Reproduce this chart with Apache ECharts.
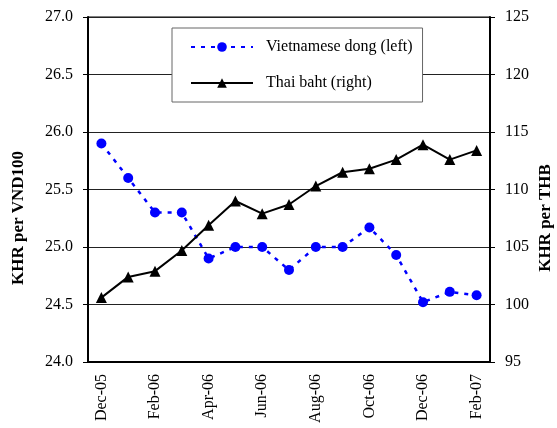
<!DOCTYPE html>
<html><head><meta charset="utf-8">
<script src="https://cdn.jsdelivr.net/npm/echarts@6/dist/echarts.min.js"></script>
<style>html,body{margin:0;padding:0;background:#fff}#c{width:557px;height:428px}</style>
</head><body><div id="c"></div>
<script>
const categories = ['Dec-05','Jan-06','Feb-06','Mar-06','Apr-06','May-06','Jun-06','Jul-06','Aug-06','Sep-06','Oct-06','Nov-06','Dec-06','Jan-07','Feb-07'];
const vndValues = [25.90, 25.60, 25.30, 25.30, 24.90, 25.00, 25.00, 24.80, 25.00, 25.00, 25.17, 24.93, 24.52, 24.61, 24.58];
const thbValues = [100.6, 102.4, 102.9, 104.7, 106.9, 109.0, 107.9, 108.7, 110.3, 111.5, 111.8, 112.6, 113.9, 112.6, 113.4];
const leftTicks = {min: 24.0, max: 27.0, interval: 0.5};
const rightTicks = {min: 95, max: 125, interval: 5};
const seriesNames = ['Vietnamese dong (left)', 'Thai baht (right)'];
const axisNames = ['KHR per VND100', 'KHR per THB'];

const FONT = '"Liberation Serif", "Times New Roman", serif';
const chart = echarts.init(document.getElementById('c'), null, {renderer: 'canvas'});
chart.setOption({
  animation: false,
  backgroundColor: '#fff',
  grid: {left: 88, right: 67, top: 17, bottom: 66, show: true, borderColor: '#000', borderWidth: 1},
  graphic: [
    {type: 'text', x: 10, y: 218, rotation: Math.PI / 2,
     style: {text: axisNames[0], fontFamily: FONT, fontSize: 17, fontWeight: 'bold', fill: '#000', align: 'center', verticalAlign: 'top'}},
    {type: 'text', x: 537, y: 218, rotation: Math.PI / 2,
     style: {text: axisNames[1], fontFamily: FONT, fontSize: 17, fontWeight: 'bold', fill: '#000', align: 'center', verticalAlign: 'top'}}
  ],
  legend: {
    orient: 'vertical', left: 172, top: 28,
    backgroundColor: '#fff', borderColor: '#666', borderWidth: 1,
    padding: [11, 10, 11, 18], itemGap: 20, itemWidth: 62, itemHeight: 12,
    textStyle: {fontFamily: FONT, fontSize: 16, color: '#000', padding: [0, 0, 0, 8]},
    data: seriesNames
  },
  xAxis: {
    type: 'category', data: categories, boundaryGap: true,
    axisLine: {lineStyle: {color: '#000', width: 2}},
    axisTick: {interval: 1, length: 5, lineStyle: {color: '#000'}},
    axisLabel: {interval: 1, rotate: 90, fontFamily: FONT, fontSize: 16, color: '#000', margin: 12},
    splitLine: {show: false}
  },
  yAxis: [{
    type: 'value', min: leftTicks.min, max: leftTicks.max, interval: leftTicks.interval,
    axisLine: {show: true, lineStyle: {color: '#000', width: 2}},
    axisTick: {show: true, length: 5, lineStyle: {color: '#000'}},
    axisLabel: {formatter: v => v.toFixed(1), fontFamily: FONT, fontSize: 16, color: '#000', margin: 15},
    splitLine: {show: true, lineStyle: {color: '#222', width: 1}}
  }, {
    type: 'value', min: rightTicks.min, max: rightTicks.max, interval: rightTicks.interval,
    axisLine: {show: true, lineStyle: {color: '#000', width: 2}},
    axisTick: {show: true, length: 5, lineStyle: {color: '#000'}},
    axisLabel: {fontFamily: FONT, fontSize: 16, color: '#000', margin: 15},
    splitLine: {show: false}
  }],
  series: [{
    name: seriesNames[0], type: 'line', yAxisIndex: 0, data: vndValues,
    symbol: 'circle', symbolSize: 10,
    itemStyle: {color: '#0000ff'},
    lineStyle: {color: '#0000ff', width: 2.5, type: [4, 6]}
  }, {
    name: seriesNames[1], type: 'line', yAxisIndex: 1, data: thbValues,
    symbol: 'triangle', symbolSize: 11,
    itemStyle: {color: '#000'},
    lineStyle: {color: '#000', width: 2}
  }]
});
</script></body></html>
